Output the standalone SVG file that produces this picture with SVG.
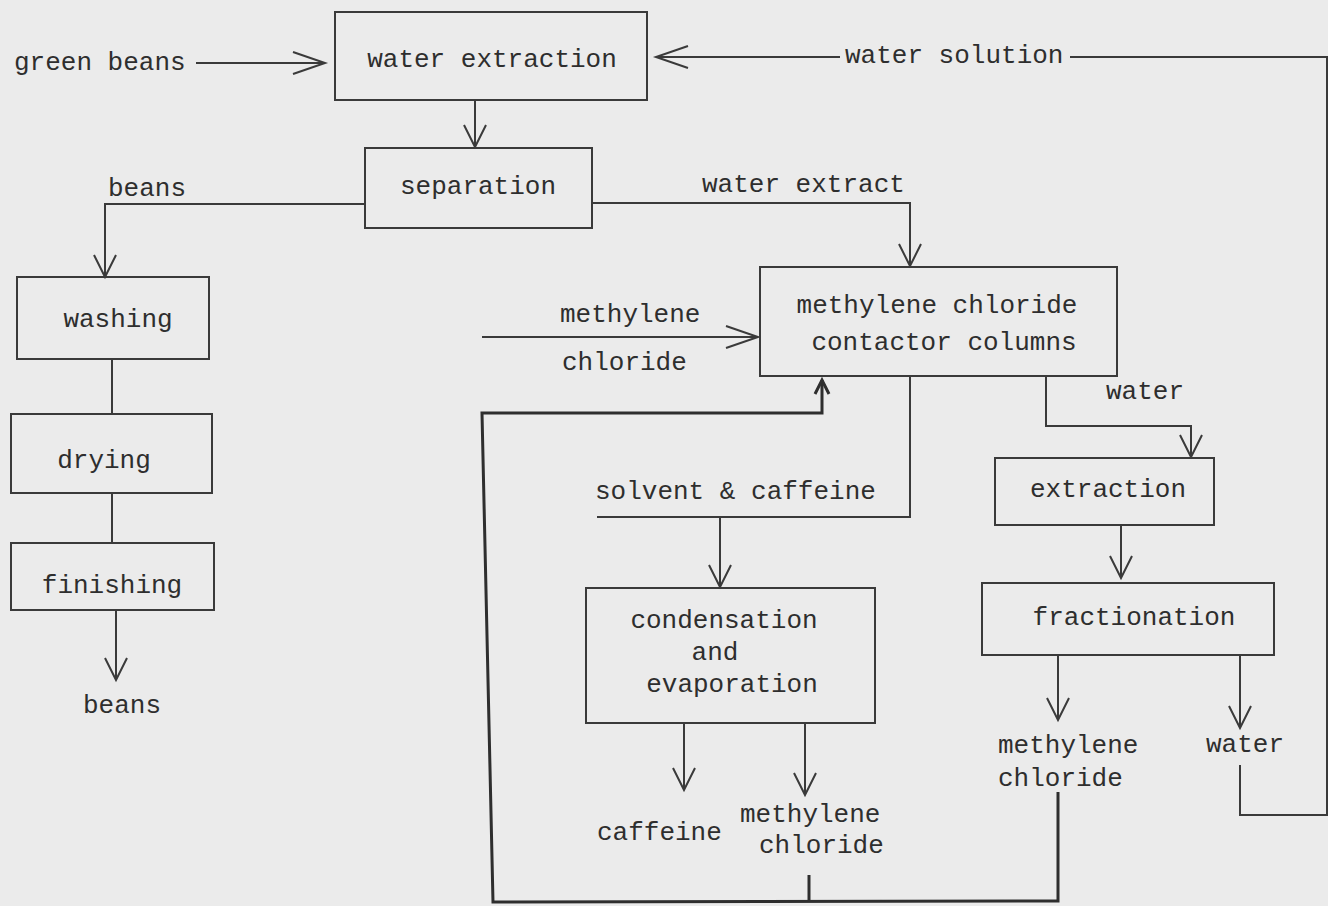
<svg xmlns="http://www.w3.org/2000/svg" width="1328" height="906" viewBox="0 0 1328 906">
<defs>
<style>
.bg{fill:#ebebeb}
.box{fill:none;stroke:#3a3a3a;stroke-width:2}
.ln{fill:none;stroke:#3a3a3a;stroke-width:2}
.thk{fill:none;stroke:#2e2e2e;stroke-width:3}
.t{font-family:"Liberation Mono","Courier New",monospace;font-size:26px;fill:#2e2e2e}
.c{text-anchor:middle}
</style>
<marker id="ah" markerUnits="userSpaceOnUse" markerWidth="40" markerHeight="30" refX="0" refY="0" orient="auto" overflow="visible">
<path d="M-22,-11 L0,0 L-22,11" fill="none" stroke="#3a3a3a" stroke-width="2"/>
</marker>
<marker id="ahl" markerUnits="userSpaceOnUse" markerWidth="40" markerHeight="30" refX="0" refY="0" orient="auto" overflow="visible">
<path d="M-32,-11 L0,0 L-32,11" fill="none" stroke="#3a3a3a" stroke-width="2"/>
</marker>
<marker id="aht" markerUnits="userSpaceOnUse" markerWidth="30" markerHeight="30" refX="0" refY="0" orient="auto" overflow="visible">
<path d="M-14,-7 L0,0 L-14,7" fill="none" stroke="#2e2e2e" stroke-width="3"/>
</marker>
</defs>
<rect class="bg" x="0" y="0" width="1328" height="906"/>

<g id="connectors">
<line class="ln" x1="196" y1="63" x2="325" y2="63" stroke="#888" marker-end="url(#ahl)"/>
<line class="ln" x1="840" y1="57" x2="656" y2="57" marker-end="url(#ahl)"/>
<polyline class="ln" points="1240,765 1240,815 1327,815 1327,57 1070,57"/>
<line class="ln" x1="475" y1="100" x2="475" y2="147" marker-end="url(#ah)"/>
<polyline class="ln" points="365,204 105,204 105,277" marker-end="url(#ah)"/>
<polyline class="ln" points="592,203 910,203 910,266" marker-end="url(#ah)"/>
<line class="ln" x1="112" y1="359" x2="112" y2="414"/>
<line class="ln" x1="112" y1="493" x2="112" y2="543"/>
<line class="ln" x1="116" y1="610" x2="116" y2="680" marker-end="url(#ah)"/>
<line class="ln" x1="482" y1="337" x2="758" y2="337" marker-end="url(#ahl)"/>
<polyline class="ln" points="1046,376 1046,426 1191,426 1191,457" marker-end="url(#ah)"/>
<line class="ln" x1="1121" y1="525" x2="1121" y2="578" marker-end="url(#ah)"/>
<polyline class="ln" points="910,376 910,517 597,517"/>
<line class="ln" x1="720" y1="517" x2="720" y2="587" marker-end="url(#ah)"/>
<line class="ln" x1="684" y1="723" x2="684" y2="790" marker-end="url(#ah)"/>
<line class="ln" x1="805" y1="723" x2="805" y2="795" marker-end="url(#ah)"/>
<line class="ln" x1="1058" y1="655" x2="1058" y2="720" marker-end="url(#ah)"/>
<line class="ln" x1="1240" y1="655" x2="1240" y2="728" marker-end="url(#ah)"/>
<polyline class="thk" points="1058,792 1058,901 493,902 482,413 822,413 822,380" marker-end="url(#aht)"/>
<line class="thk" x1="809" y1="875" x2="809" y2="901"/>
</g>

<g id="green-beans"><text class="t" x="14" y="70">green beans</text></g>
<g id="water-extraction">
<rect class="box" x="335" y="12" width="312" height="88"/>
<text class="t c" x="492" y="67">water extraction</text>
</g>
<g id="water-solution"><text class="t" x="845" y="63">water solution</text></g>
<g id="separation">
<rect class="box" x="365" y="148" width="227" height="80"/>
<text class="t c" x="478" y="194">separation</text>
</g>
<g id="beans-label"><text class="t" x="108" y="196">beans</text></g>
<g id="water-extract-label"><text class="t" x="702" y="192">water extract</text></g>
<g id="washing">
<rect class="box" x="17" y="277" width="192" height="82"/>
<text class="t c" x="118" y="327">washing</text>
</g>
<g id="drying">
<rect class="box" x="11" y="414" width="201" height="79"/>
<text class="t c" x="104" y="468">drying</text>
</g>
<g id="finishing">
<rect class="box" x="11" y="543" width="203" height="67"/>
<text class="t c" x="112" y="593">finishing</text>
</g>
<g id="beans-out"><text class="t c" x="122" y="713">beans</text></g>
<g id="methylene-chloride-in">
<text class="t" x="560" y="322">methylene</text>
<text class="t" x="562" y="370">chloride</text>
</g>
<g id="contactor-columns">
<rect class="box" x="760" y="267" width="357" height="109"/>
<text class="t c" x="937" y="313">methylene chloride</text>
<text class="t c" x="944" y="350">contactor columns</text>
</g>
<g id="water-label"><text class="t" x="1106" y="399">water</text></g>
<g id="extraction">
<rect class="box" x="995" y="458" width="219" height="67"/>
<text class="t c" x="1108" y="497">extraction</text>
</g>
<g id="fractionation">
<rect class="box" x="982" y="583" width="292" height="72"/>
<text class="t c" x="1134" y="625">fractionation</text>
</g>
<g id="mc-out">
<text class="t" x="998" y="753">methylene</text>
<text class="t" x="998" y="786">chloride</text>
</g>
<g id="water-out"><text class="t" x="1206" y="752">water</text></g>
<g id="solvent-caffeine"><text class="t" x="595" y="499">solvent &amp; caffeine</text></g>
<g id="condensation">
<rect class="box" x="586" y="588" width="289" height="135"/>
<text class="t c" x="724" y="628">condensation</text>
<text class="t c" x="715" y="660">and</text>
<text class="t c" x="732" y="692">evaporation</text>
</g>
<g id="caffeine-out"><text class="t" x="597" y="840">caffeine</text></g>
<g id="mc-recycle">
<text class="t" x="740" y="822">methylene</text>
<text class="t" x="759" y="853">chloride</text>
</g>
</svg>
